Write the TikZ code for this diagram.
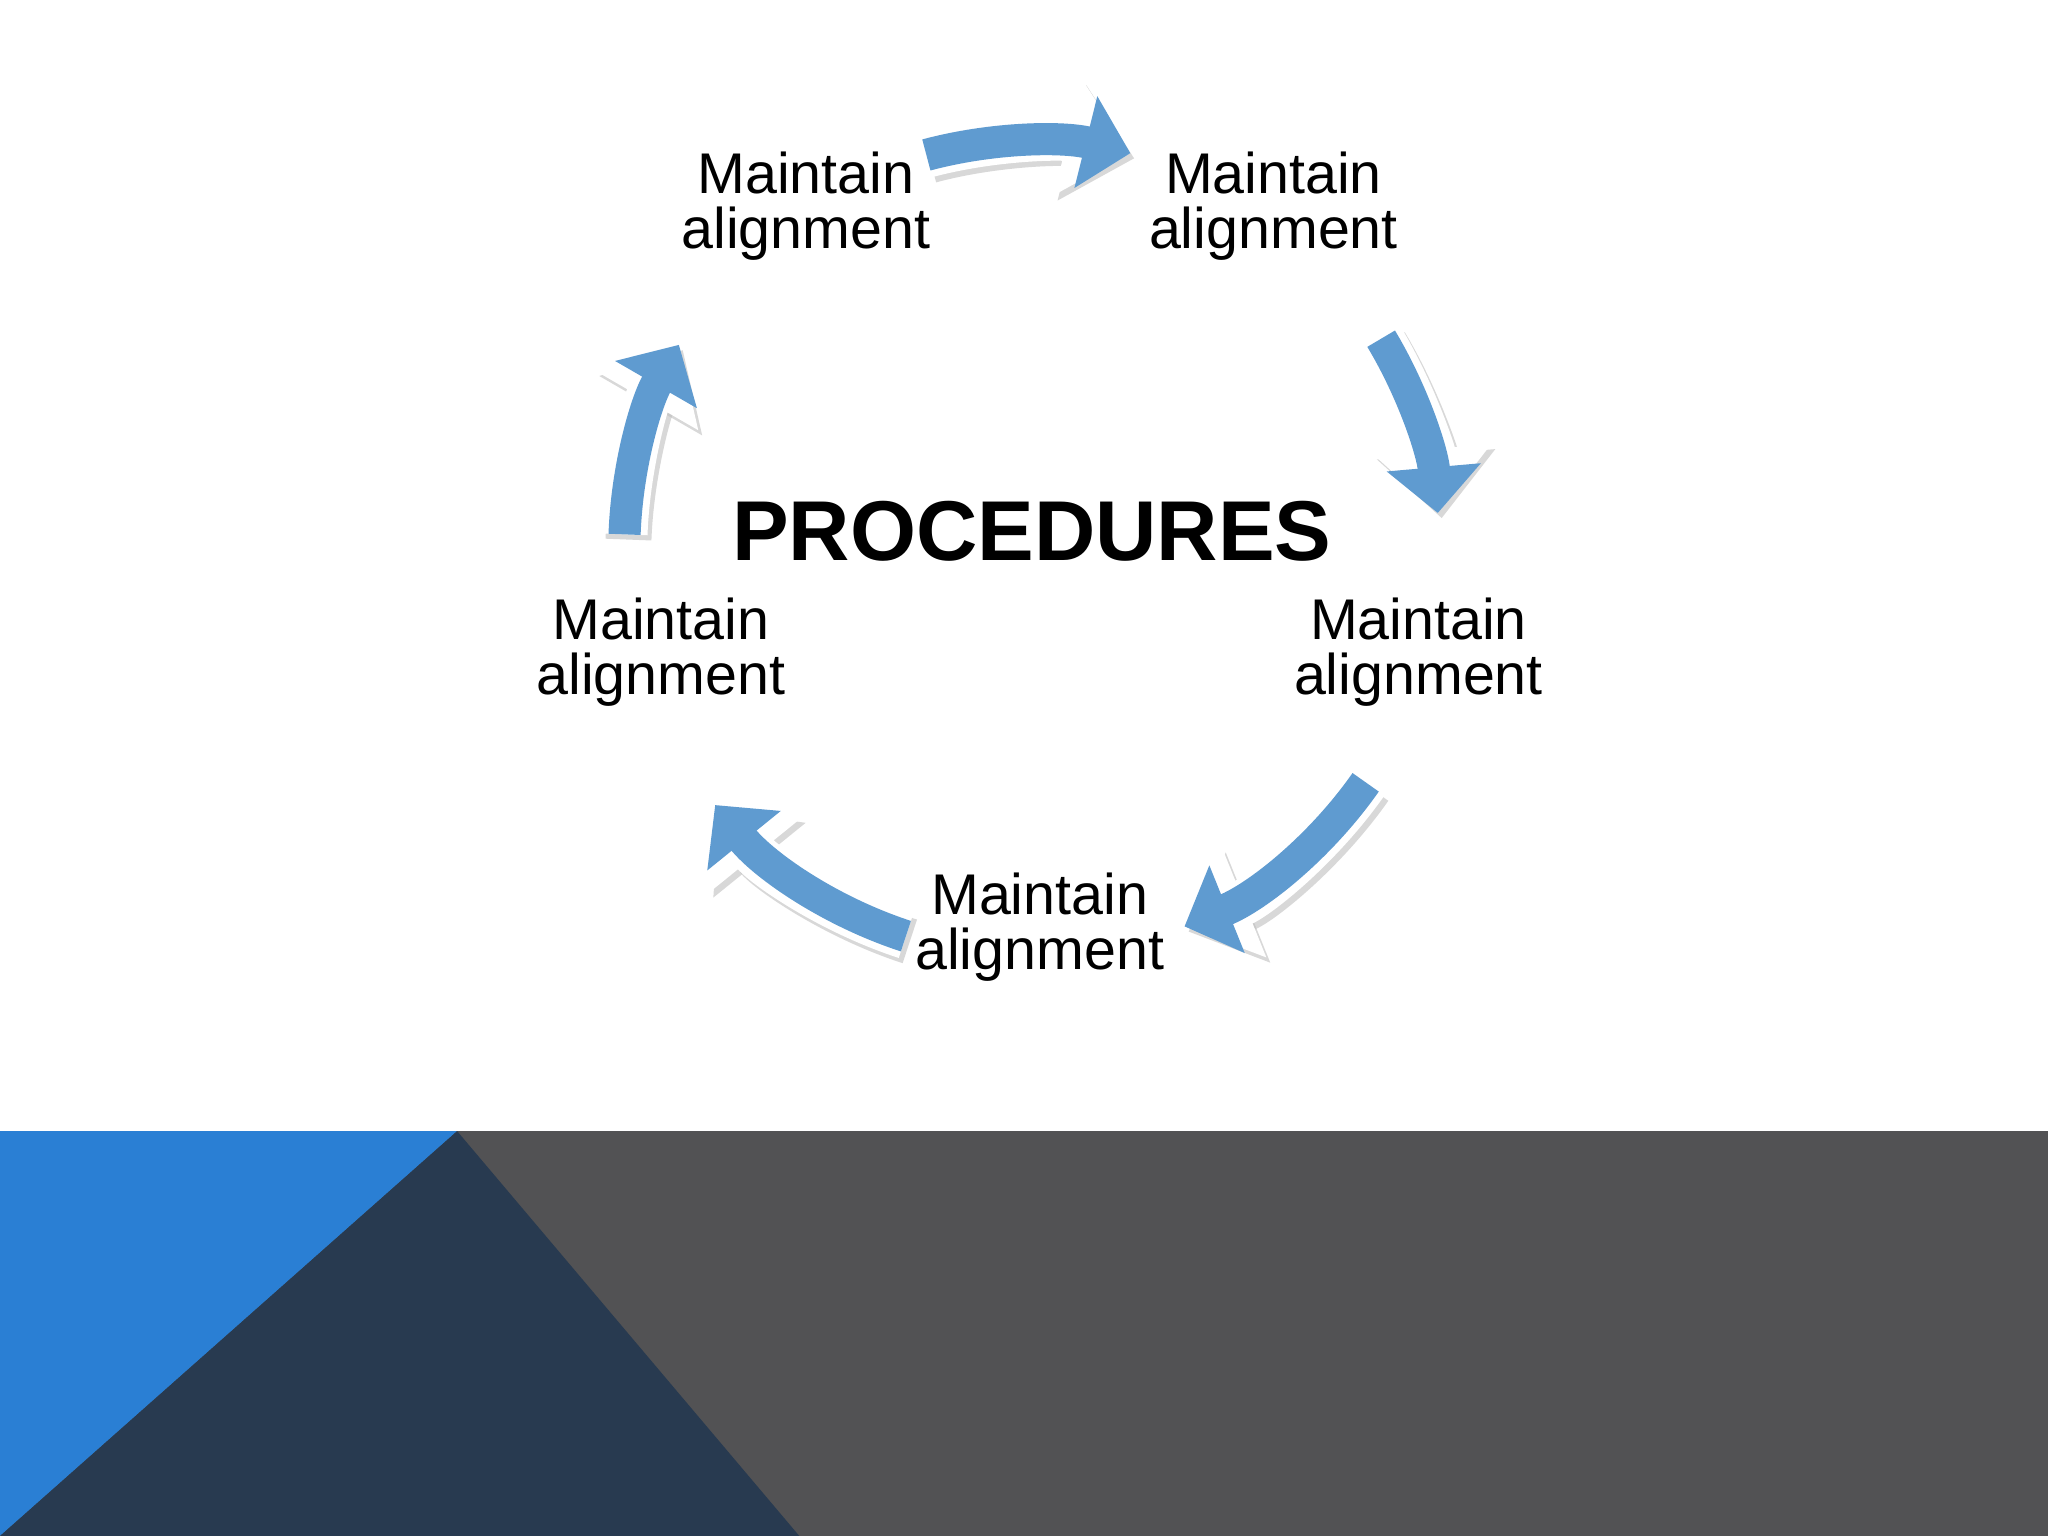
\documentclass[tikz,border=0pt]{standalone}
\usepackage{fontspec}
\setmainfont{Liberation Sans}
\usetikzlibrary{arrows.meta,calc}
\definecolor{arrblue}{HTML}{5F9BD0}
\definecolor{bandgray}{HTML}{525254}
\definecolor{bandblue}{HTML}{2A7FD4}
\definecolor{bandnavy}{HTML}{283A50}
\tikzset{
  lbl/.style={align=center,font=\fontsize{12.5}{12}\selectfont,inner sep=0pt},
  arrwhite/.style={line width=10pt,white,-{Triangle[width=25pt,length=14pt]}},
  arrshadow/.style={line width=10pt,black!25,opacity=0.6,-{Triangle[width=25pt,length=14pt]}},
  arrfill/.style={line width=7pt,arrblue,-{Triangle[width=20pt,length=10pt]}}
}
\newcommand{\cycarrow}[2]{%
  \draw[arrshadow] ($(c)+(#1:312)+(3,4)$) arc[start angle=#1,end angle=#2,radius=312];
  \draw[arrwhite] ($(c)+(#1:312)$) arc[start angle=#1,end angle=#2,radius=312];
  \draw[arrfill] ($(c)+(#1:312)$) arc[start angle=#1,end angle=#2,radius=312];
}
\begin{document}
\begin{tikzpicture}[x=0.1mm,y=-0.1mm]
\useasboundingbox (0,0) rectangle (1568,1176);
\fill[white] (0,0) rectangle (1568,1176);
\fill[bandgray] (0,866) rectangle (1568,1176);
\fill[bandblue] (0,866) -- (350,866) -- (0,1176) -- cycle;
\fill[bandnavy] (350,866) -- (612,1176) -- (0,1176) -- cycle;
\coordinate (c) at (790,420);
\cycarrow{255}{284}
\cycarrow{329}{355}
\cycarrow{35}{68}
\cycarrow{108}{141}
\cycarrow{182}{210}
\node[font=\bfseries\fontsize{18.5}{20}\selectfont] (t) at (790,407) {PROCEDURES};
\node[lbl] (a) at (617,158) {Maintain\\alignment};
\node[lbl] (b) at (975,158) {Maintain\\alignment};
\node[lbl] (d) at (1086,499) {Maintain\\alignment};
\node[lbl] (e) at (796,710) {Maintain\\alignment};
\node[lbl] (f) at (506,499) {Maintain\\alignment};
\end{tikzpicture}
\end{document}
